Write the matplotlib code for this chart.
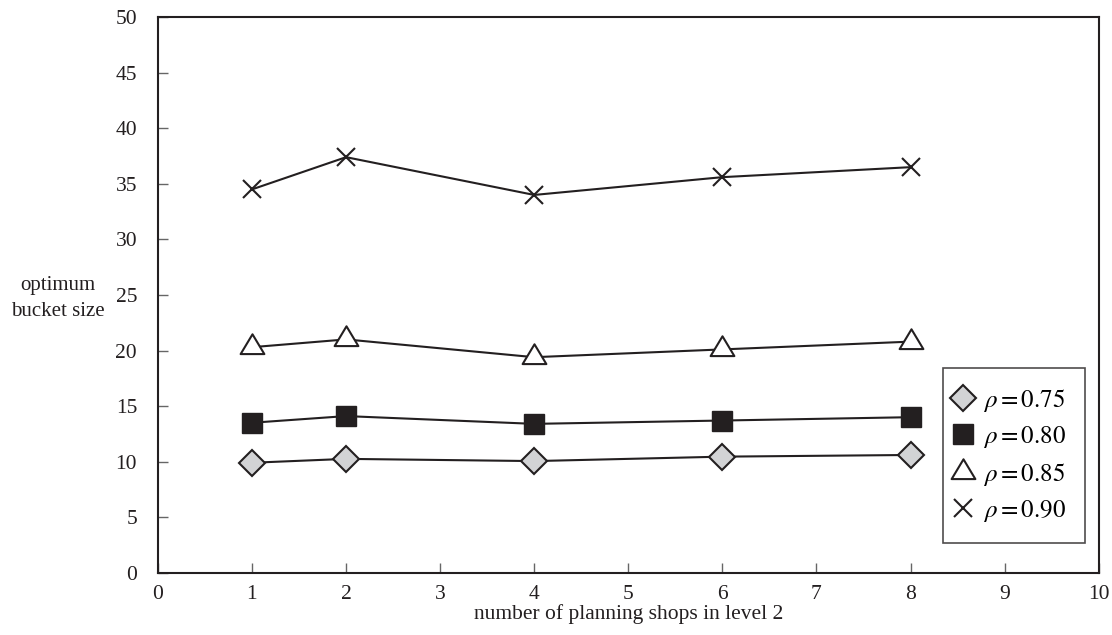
import matplotlib.pyplot as plt
from matplotlib.path import Path

plt.rcParams['font.family'] = 'Liberation Serif'
plt.rcParams['mathtext.fontset'] = 'stix'

shops = [1, 2, 4, 6, 8]
rho_labels = [r'$\rho=0.75$', r'$\rho=0.80$', r'$\rho=0.85$', r'$\rho=0.90$']
bucket_075 = [9.9, 10.25, 10.05, 10.45, 10.6]
bucket_080 = [13.5, 14.1, 13.4, 13.7, 14.0]
bucket_085 = [20.3, 21.0, 19.4, 20.1, 20.8]
bucket_090 = [34.5, 37.4, 34.0, 35.6, 36.5]

# triangle centred on its centroid so the line runs through its lower part
tri = Path([(0, 0.667), (-0.6, -0.333), (0.6, -0.333), (0, 0.667)],
           [Path.MOVETO, Path.LINETO, Path.LINETO, Path.CLOSEPOLY])

fig = plt.figure(figsize=(11.12, 6.35), dpi=100)
ax = fig.add_axes([0.142, 0.098, 0.846, 0.875])

ax.plot(shops, bucket_075, color='#231f20', lw=1.5, marker='D', ms=13,
        mfc='#d2d3d5', mec='#231f20', mew=1.5, label=rho_labels[0])
ax.plot(shops, bucket_080, color='#231f20', lw=1.5, marker='s', ms=14.5,
        mfc='#231f20', mec='#231f20', label=rho_labels[1])
ax.plot(shops, bucket_085, color='#231f20', lw=1.5, marker=tri, ms=19,
        mfc='white', mec='#231f20', mew=1.5, label=rho_labels[2])
ax.plot(shops, bucket_090, color='#231f20', lw=1.5, marker='x', ms=13,
        mec='#231f20', mew=1.5, label=rho_labels[3])

ax.set_xlim(0, 10)
ax.set_ylim(0, 50)
ax.set_xticks(range(0, 11))
ax.set_yticks(range(0, 51, 5))
ax.tick_params(direction='in', length=7, width=1, labelsize=15.5,
               color='#666666', labelcolor='#231f20')
ax.tick_params(axis='y', pad=15)
ax.tick_params(axis='x', pad=9)
for s in ax.spines.values():
    s.set_color('#231f20')
    s.set_linewidth(1.5)

ax.set_xlabel('number of planning shops in level 2', fontsize=15.5,
              color='#231f20', labelpad=0)
fig.text(0.052, 0.530, 'optimum\nbucket size', ha='center', va='center',
         fontsize=15, color='#231f20', linespacing=1.5)

leg = ax.legend(loc='lower right', bbox_to_anchor=(0.985, 0.054),
                borderaxespad=0, fontsize=18, frameon=True, fancybox=False,
                edgecolor='#231f20', borderpad=0.75, labelspacing=0.42,
                handlelength=0.1, handletextpad=0.75)
leg.get_frame().set_linewidth(1.2)
for h in leg.legend_handles:
    h.set_linestyle('none')

fig.savefig('out.png', dpi=100)
